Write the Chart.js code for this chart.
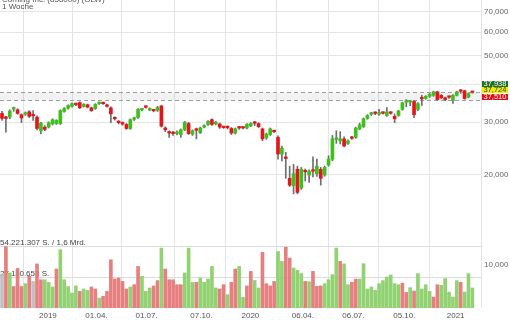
<!DOCTYPE html>
<html>
<head>
<meta charset="utf-8">
<script src="https://cdn.jsdelivr.net/npm/chart.js@4.4.1/dist/chart.umd.min.js"></script>
<style>
html,body{margin:0;padding:0;background:#fff;}
#wrap{position:relative;width:510px;height:320px;overflow:hidden;font-family:"Liberation Sans",Arial,sans-serif;}
#c{position:absolute;left:0;top:0;}
.t{position:absolute;left:2px;color:#555;font-size:8px;line-height:9px;white-space:nowrap;}
.box{position:absolute;left:482px;width:26px;height:6px;font-size:7.5px;line-height:6px;text-align:center;}
</style>
</head>
<body>
<div id="wrap">
<canvas id="c" width="510" height="320"></canvas>
<div class="t" style="top:-5px">Corning Inc. (858000) (GLW)</div>
<div class="t" style="top:2px">1 Woche</div>
<div class="box" style="top:81px;background:#1f6e1f;color:#fff">37,938</div>
<div class="box" style="top:87.3px;background:#f0f000;color:#333">37,724</div>
<div class="box" style="top:93.6px;background:#e0101a;color:#fff">37,510</div>
</div>
<script>
// ---- data (weekly candles, index 0 = first week shown) ----
const opens = [32.1,31.1,31.2,33.2,33.0,31.8,31.9,32.5,31.7,31.2,28.1,28.9,28.9,29.6,29.7,29.7,32.6,33.4,33.9,34.5,
34.9,33.9,34.3,33.5,33.3,34.6,34.75,34.3,33.5,31.0,30.1,29.8,29.5,28.6,30.7,31.1,33.0,33.8,32.95,32.9,
32.85,34.0,28.7,27.8,27.7,27.5,27.3,28.3,29.7,27.4,28.5,27.7,28.9,29.5,30.6,29.6,29.6,28.95,29.0,28.6,
27.6,28.8,28.85,28.7,29.2,29.9,29.7,28.5,26.6,27.3,28.0,26.7,23.5,22.9,19.5,18.4,20.9,18.1,20.7,20.0,
20.75,20.2,20.9,20.0,21.6,22.6,26.3,26.0,26.4,25.5,26.7,26.7,28.5,29.0,30.9,31.9,32.3,31.95,32.3,31.6,
32.3,31.4,31.6,33.1,35.0,35.0,35.2,33.1,36.1,36.0,36.6,36.9,37.9,36.9,36.2,36.5,35.5,36.9,38.25,38.2,
36.4,37.85];
const highs = [32.6,31.4,33.0,33.7,33.3,32.0,32.5,32.8,32.8,31.5,30.0,29.2,30.1,30.8,30.6,33.0,33.6,34.3,34.8,34.7,
35.1,34.6,34.5,33.7,34.6,35.1,35.0,34.5,33.8,31.3,30.4,30.1,29.7,30.8,31.2,33.3,33.4,34.0,33.5,33.1,
33.9,34.2,29.0,28.1,28.0,28.1,28.5,30.2,30.0,28.3,28.7,28.9,29.4,30.4,30.8,30.2,29.8,29.1,29.2,28.8,
28.7,29.0,29.0,29.7,29.9,30.2,29.9,28.7,27.6,28.7,28.2,27.0,25.0,23.8,21.4,21.7,21.4,21.2,20.95,20.8,
23.0,22.6,21.2,21.4,23.2,27.1,28.1,27.9,26.8,26.2,26.9,28.9,29.8,31.0,31.8,32.4,32.5,33.1,32.5,33.6,
32.5,32.0,32.9,35.0,35.7,35.5,35.4,34.9,36.9,36.8,37.4,38.1,38.1,37.1,36.4,36.7,37.1,38.1,38.6,38.4,
37.6,37.938];
const lows = [30.4,27.8,30.8,32.6,31.9,29.9,31.6,31.1,30.4,28.3,27.4,28.1,28.7,29.4,29.5,29.5,32.4,33.2,33.7,34.1,
33.3,33.7,33.5,32.6,33.1,34.4,34.4,33.7,29.9,30.5,29.6,29.3,28.4,28.4,30.4,30.9,32.7,33.4,32.8,32.5,
32.6,28.9,27.9,26.7,27.1,27.2,26.7,28.1,27.3,27.1,26.4,27.5,28.7,29.3,29.3,29.4,28.6,28.6,28.5,27.3,
27.4,28.4,28.5,28.5,29.0,29.2,28.8,26.0,26.3,27.1,27.7,22.6,22.3,19.5,18.3,17.3,17.3,17.9,19.1,18.9,
19.7,19.8,18.5,19.8,21.4,22.3,25.5,25.4,24.8,25.3,26.3,26.5,28.3,28.8,30.7,31.6,31.8,31.6,31.9,31.4,
31.9,29.9,31.4,32.9,33.8,34.1,31.1,32.8,34.1,35.8,36.3,36.6,35.5,35.9,35.4,36.0,34.7,36.7,37.45,35.8,
36.2,37.51];
const closes = [30.9,30.9,32.7,33.4,32.1,31.0,32.2,31.4,31.5,28.6,29.8,28.4,29.9,30.6,30.4,32.8,33.3,34.1,34.6,34.35,
33.5,34.4,33.7,32.8,34.4,34.8,34.6,33.9,32.0,30.8,29.9,29.6,28.6,30.6,30.9,33.1,33.15,33.65,33.2,32.75,
33.6,29.1,28.3,27.6,27.5,27.8,28.3,30.0,27.5,28.1,28.2,28.7,29.2,30.2,29.5,30.0,28.9,28.8,28.75,27.6,
28.5,28.7,28.7,29.5,29.7,29.75,29.0,26.4,27.4,28.5,27.9,23.5,24.6,22.7,18.5,20.2,17.5,20.9,20.5,20.6,
20.6,21.4,19.5,21.2,22.6,26.4,26.5,26.4,25.0,26.0,26.5,28.7,29.4,30.8,31.6,32.1,32.1,32.1,32.15,32.45,
32.15,30.8,32.7,34.8,35.2,35.2,31.8,34.6,35.9,36.6,37.2,37.9,35.7,36.2,35.7,36.35,36.9,37.9,38.05,36.0,
37.4,37.724];
// weekly volume in millions of shares
const volumesM = [30,54.22,31,19,35,19,21.5,28,23.5,39,25,25,22.7,18.6,34.5,51.6,25,19,13.3,19.5,
14.7,16.8,15.6,18.6,16.8,8.8,10.3,14.7,42.7,25.7,26.5,23.5,16.8,18.6,20.6,36.8,28,14.7,17.7,19.5,
24.2,53,34.5,25,25,20.6,20.6,31,53,22.7,22.7,26.5,22.7,25.6,36.8,17.7,16.8,20.6,11.8,22.7,
34.5,36.8,9.4,19.5,32.4,24.4,17.7,49.2,21.5,19.5,23.5,50,41.2,53.8,44.2,35.4,33.3,30.4,23.5,23.2,
32.4,19.1,19.5,21.5,25,29.5,53,41.2,39,20.6,22.7,25.6,25.6,39.2,16.8,18.6,15.6,21.5,24.2,27.4,
29.2,21.5,20.6,22,13.8,18,15,30.4,16.8,20.6,14.7,9.7,20.6,20,26,14.1,9.7,24.2,22.7,14.1,
30.4,17.7];
// volume bar direction: u = up, d = down, n = unchanged
const volDir = "ndudddudndduuuduuuuuduuddudddddddudduuudduddddduuuduuuuuddudduudduudddduudduuududdduuuuduudduuuuuuuuuuudduduuuudduuuuuduuuuddudd".split('');
const volMaxShares = 54221307;
const volTickLabels = ['54.221.307 S. / 1,6 Mrd.', '27.110.653 S.'];
const priceTicks = [10, 20, 30, 40, 50, 60, 70];
const priceTickLabels = ['10,000', '20,000', '30,000', '', '50,000', '60,000', '70,000'];
const timeTickPos = [11.8, 24.3, 37.2, 51.3, 63.9, 77.4, 90.4, 103.5, 116.7];
const timeTickLabels = ['2019', '01.04.', '01.07.', '07.10.', '2020', '06.04.', '06.07.', '05.10.', '2021'];
const bandTop = 37.938, bandBottom = 35.6;

// ---- chart ----
const weeks = opens.map((_, i) => i);
const UP = '#3cc01a', DOWN = '#e3161b';
const VUP = 'rgba(140,208,108,0.95)', VDOWN = 'rgba(229,120,120,0.95)', VN = 'rgba(190,190,190,0.95)';

const bandPlugin = {
  id: 'band',
  beforeDatasetsDraw(chart) {
    const {ctx, chartArea: a, scales: {y}} = chart;
    const y1 = Math.round(y.getPixelForValue(bandTop)) + 0.5;
    const y2 = Math.round(y.getPixelForValue(bandBottom)) + 0.5;
    ctx.save();
    ctx.fillStyle = 'rgba(0,0,0,0.05)';
    ctx.fillRect(a.left, y1, a.right - a.left, y2 - y1);
    ctx.strokeStyle = '#a0a0a0';
    ctx.lineWidth = 1;
    ctx.setLineDash([4, 3]);
    ctx.beginPath();
    ctx.moveTo(a.left, y1); ctx.lineTo(a.right, y1);
    ctx.moveTo(a.left, y2); ctx.lineTo(a.right, y2);
    ctx.stroke();
    ctx.restore();
  }
};

const font8 = {family: '"Liberation Sans", Arial, sans-serif', size: 8};
const noPad = s => { s.paddingTop = 0; s.paddingBottom = 0; s.paddingLeft = 0; s.paddingRight = 0; };

new Chart(document.getElementById('c'), {
  type: 'bar',
  data: {
    datasets: [
      {
        label: 'body',
        data: weeks.map(i => ({x: i, y: [opens[i], closes[i]]})),
        backgroundColor: weeks.map(i => closes[i] >= opens[i] ? UP : DOWN),
        barThickness: 3, minBarLength: 1.5, borderWidth: 0, grouped: false, order: 0,
        xAxisID: 'x', yAxisID: 'y'
      },
      {
        label: 'wick',
        data: weeks.map(i => ({x: i, y: [lows[i], highs[i]]})),
        backgroundColor: '#6e6e6e',
        barThickness: 1, borderWidth: 0, grouped: false, order: 1,
        xAxisID: 'x', yAxisID: 'y'
      },
      {
        label: 'volume',
        data: weeks.map(i => ({x: i, y: volumesM[i] * 1e6})),
        backgroundColor: weeks.map(i => volDir[i] === 'u' ? VUP : volDir[i] === 'd' ? VDOWN : VN),
        barThickness: 3, borderWidth: 0, grouped: false, order: 2,
        xAxisID: 'x', yAxisID: 'yVol'
      }
    ]
  },
  options: {
    responsive: false,
    devicePixelRatio: 1,
    animation: false,
    layout: {padding: 0},
    plugins: {legend: {display: false}, tooltip: {enabled: false}, title: {display: false}},
    scales: {
      x: {
        type: 'linear', position: 'bottom', min: -0.52, max: 123.48, offset: false,
        grid: {color: '#e4e4e4', drawTicks: false},
        border: {display: false},
        ticks: {font: font8, color: '#555', padding: 3, maxRotation: 0, autoSkip: false,
          callback: (v, i) => timeTickLabels[i]},
        afterBuildTicks: s => { s.ticks = timeTickPos.map(v => ({value: v})); },
        afterFit: s => { s.height = 12; noPad(s); }
      },
      y: {
        type: 'logarithmic', position: 'right', min: 7.196, max: 76.76, bounds: 'data',
        grid: {color: c => (c.tick && c.tick.value === 10) ? 'rgba(0,0,0,0)' : '#e6e6e6', drawTicks: false},
        border: {display: false},
        ticks: {font: font8, color: '#666', padding: 2, callback: (v, i) => priceTickLabels[i]},
        afterBuildTicks: s => { s.ticks = priceTicks.map(v => ({value: v})); },
        afterFit: s => { s.width = 28; noPad(s); }
      },
      yVol: {
        type: 'linear', position: 'left', min: 0, max: volMaxShares * 308 / 61.3,
        grid: {color: '#dcdcdc', drawTicks: false},
        border: {display: false},
        ticks: {mirror: true, font: font8, color: '#444', padding: 0, labelOffset: -4,
          callback: (v, i) => volTickLabels[i]},
        afterBuildTicks: s => { s.ticks = [volMaxShares, volMaxShares / 2].map(v => ({value: v})); },
        afterFit: s => { s.width = 0; noPad(s); }
      }
    }
  },
  plugins: [bandPlugin]
});
</script>
</body>
</html>
